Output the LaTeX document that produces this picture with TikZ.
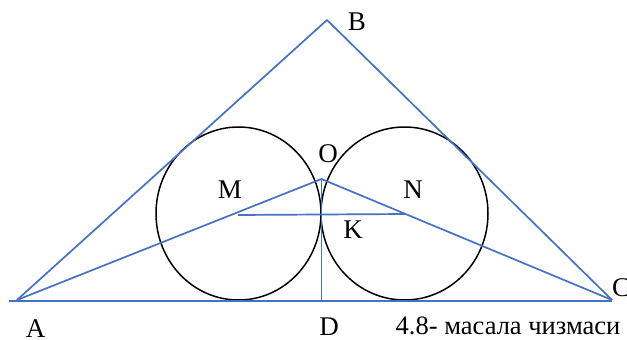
\documentclass[tikz,border=0pt]{standalone}
\usepackage{fontspec}
\setmainfont{Liberation Serif}
\definecolor{lineblue}{RGB}{68,114,196}
\tikzset{
  bl/.style={draw=lineblue, line width=1.7pt},
  circ/.style={draw=black, line width=1.5pt},
  lbl/.style={font=\fontsize{27}{27}\selectfont, inner sep=0pt},
  captxt/.style={font=\fontsize{26.5}{26.5}\selectfont, inner sep=0pt}
}
\begin{document}
\begin{tikzpicture}[x=1pt,y=-1pt]
\useasboundingbox (0,0) rectangle (627,340);
\fill[white] (0,0) rectangle (627,340);
\coordinate (A) at (17,300);
\coordinate (B) at (327,20);
\coordinate (C) at (612,300);
\coordinate (L) at (9,301);
\coordinate (R) at (612,301);
\coordinate (O) at (321.5,179);
\coordinate (D) at (321.5,301);
\coordinate (M) at (238,215);
\coordinate (N) at (405,214);
% circles
\draw[circ] (238.5,213.5) ellipse [x radius=82.5, y radius=86.5];
\draw[circ] (404.5,213.5) ellipse [x radius=83.5, y radius=86.5];
% triangle
\draw[bl, line join=round] (A) -- (B) -- (C);
\draw[bl] (L) -- (R);
\draw[bl] (A) -- (O) -- (C);
\draw[bl] (O) -- (D);
\draw[bl] (M) -- (N);
% labels
\node[lbl] (lB) at (357,22) {B};
\node[lbl] (lO) at (328,154) {O};
\node[lbl] (lM) at (230,190) {M};
\node[lbl] (lN) at (413,190) {N};
\node[lbl] (lK) at (353,230) {K};
\node[lbl] (lA) at (35.5,328.5) {A};
\node[lbl] (lD) at (329,327) {D};
\node[lbl, anchor=west] (lC) at (612,288) {C};
\node[captxt] (capt) at (508,326) {4.8- масала чизмаси};
\end{tikzpicture}
\end{document}
